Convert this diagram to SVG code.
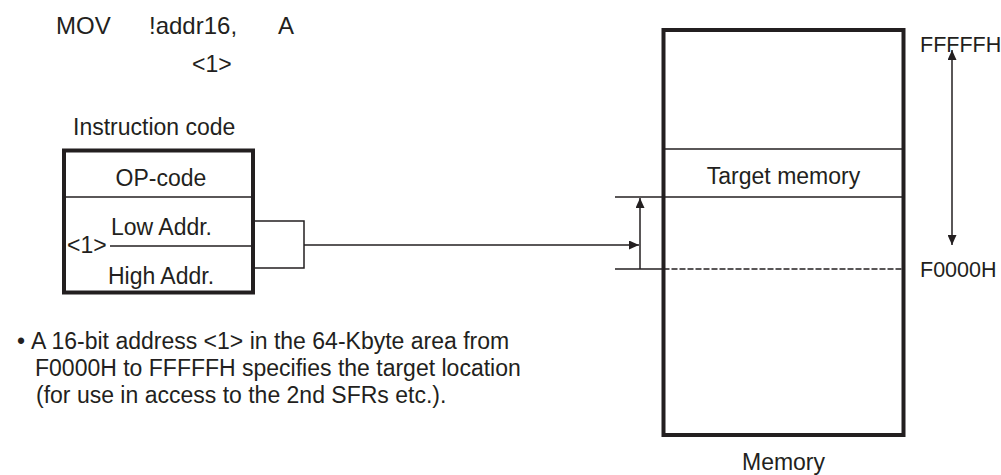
<svg xmlns="http://www.w3.org/2000/svg" width="1001" height="475" viewBox="0 0 1001 475">
<defs>
<style>
text{font-family:"Liberation Sans",Arial,Helvetica,sans-serif;fill:#231f20;font-size:23px;}
.m{font-size:24px;}
.h{font-size:21.5px;}
.thick{fill:none;stroke:#231f20;stroke-width:4;}
.thin{fill:none;stroke:#231f20;stroke-width:1.5;}
.dash{fill:none;stroke:#231f20;stroke-width:1.5;stroke-dasharray:6 2;}
</style>
<marker id="ah" viewBox="0 0 10 10" refX="10" refY="5" markerWidth="10" markerHeight="9" markerUnits="userSpaceOnUse" orient="auto-start-reverse" preserveAspectRatio="none">
<path d="M0,0 L10,5 L0,10 z" fill="#231f20"/>
</marker>
</defs>
<g id="instruction-text">
<text class="m" x="56" y="34">MOV</text>
<text class="m" x="149" y="34">!addr16,</text>
<text class="m" x="278" y="34">A</text>
<text x="192" y="72">&lt;1&gt;</text>
</g>
<g id="instruction-code">
<text x="73" y="135">Instruction code</text>
<rect class="thick" x="64" y="150.5" width="189" height="142"/>
<line class="thin" x1="64" y1="197" x2="253" y2="197"/>
<line class="thin" x1="110" y1="246" x2="253" y2="246"/>
<text x="161" y="186" text-anchor="middle">OP-code</text>
<text x="161.5" y="235" text-anchor="middle">Low Addr.</text>
<text x="161" y="284" text-anchor="middle">High Addr.</text>
<text x="67" y="253">&lt;1&gt;</text>
</g>
<g id="memory">
<rect class="thick" x="663.5" y="30" width="240" height="405"/>
<line class="thin" x1="663.5" y1="149" x2="903.5" y2="149"/>
<line class="thin" x1="615" y1="197" x2="903.5" y2="197"/>
<line class="thin" x1="615" y1="269" x2="663.5" y2="269"/>
<line class="dash" x1="663.5" y1="269" x2="903.5" y2="269"/>
<text x="783.5" y="184" text-anchor="middle">Target memory</text>
<text x="783.5" y="470" text-anchor="middle">Memory</text>
<text class="h" x="920" y="52">FFFFFH</text>
<text class="h" x="920" y="277">F0000H</text>
</g>
<g id="connectors">
<polyline class="thin" points="253,221 304,221 304,268 253,268"/>
<line class="thin" x1="304" y1="245" x2="639" y2="245" marker-end="url(#ah)"/>
<line class="thin" x1="640" y1="269" x2="640" y2="198" marker-end="url(#ah)"/>
<line class="thin" x1="952" y1="50" x2="952" y2="245" marker-start="url(#ah)" marker-end="url(#ah)"/>
</g>
<g id="note">
<text x="17" y="349">•</text>
<text x="31" y="349">A 16-bit address &lt;1&gt; in the 64-Kbyte area from</text>
<text x="35" y="376">F0000H to FFFFFH specifies the target location</text>
<text x="36" y="403">(for use in access to the 2nd SFRs etc.).</text>
</g>
</svg>
